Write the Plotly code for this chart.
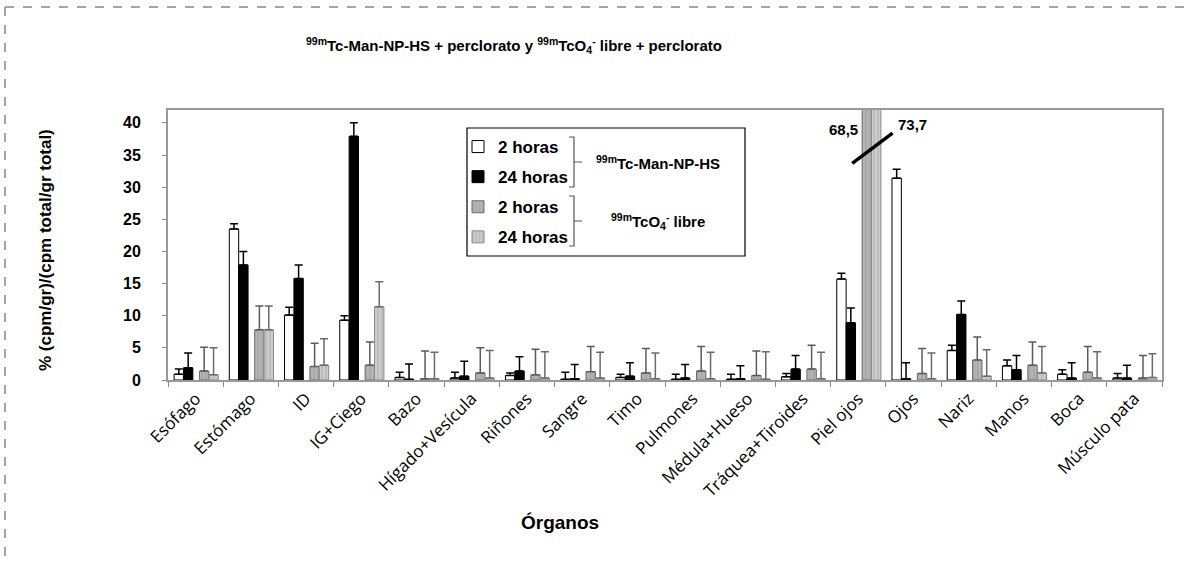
import plotly.graph_objects as go

# ---------------- data ----------------
categories = ["Esófago", "Estómago", "ID", "IG+Ciego", "Bazo", "Hígado+Vesícula",
              "Riñones", "Sangre", "Timo", "Pulmones", "Médula+Hueso",
              "Tráquea+Tiroides", "Piel ojos", "Ojos", "Nariz", "Manos", "Boca",
              "Músculo pata"]

man_2h = [0.9, 23.5, 10.1, 9.3, 0.4, 0.3, 0.7, 0.1, 0.4, 0.1, 0.1, 0.5, 15.7, 31.4, 4.6, 2.2, 0.9, 0.3]
man_2h_err = [0.8, 0.8, 1.2, 0.7, 0.8, 0.9, 0.4, 1.1, 0.5, 0.8, 0.8, 0.5, 0.9, 1.4, 0.8, 0.9, 0.7, 0.7]
man_24h = [1.9, 17.9, 15.8, 37.9, 0.1, 0.6, 1.4, 0.2, 0.6, 0.3, 0.2, 1.7, 8.9, 0.2, 10.2, 1.6, 0.3, 0.3]
man_24h_err = [2.3, 2.1, 2.1, 2.1, 2.4, 2.3, 2.2, 2.2, 2.1, 2.1, 2.0, 2.1, 2.3, 2.5, 2.1, 2.2, 2.4, 2.0]
tc_2h = [1.4, 7.8, 2.1, 2.3, 0.2, 1.1, 0.8, 1.3, 1.1, 1.4, 0.7, 1.7, 68.5, 1.0, 3.1, 2.3, 1.2, 0.3]
tc_2h_err = [3.7, 3.7, 3.6, 3.6, 4.3, 3.9, 4.0, 3.9, 3.8, 3.8, 3.8, 3.7, 4.0, 3.9, 3.6, 3.6, 4.0, 3.5]
tc_24h = [0.8, 7.8, 2.3, 11.4, 0.2, 0.3, 0.3, 0.3, 0.2, 0.2, 0.1, 0.2, 73.7, 0.2, 0.6, 1.1, 0.3, 0.4]
tc_24h_err = [4.2, 3.7, 4.1, 3.9, 4.1, 4.3, 4.1, 4.0, 4.0, 4.1, 4.3, 4.1, 4.0, 4.0, 4.1, 4.1, 4.1, 3.7]

legend_labels = ["2 horas", "24 horas", "2 horas", "24 horas"]
group_labels = ["<b><sup>99m</sup>Tc-Man-NP-HS</b>", "<b><sup>99m</sup>TcO<sub>4</sub><sup>-</sup> libre</b>"]
title_text = ("<b><sup>99m</sup>Tc-Man-NP-HS + perclorato y <sup>99m</sup>TcO<sub>4</sub>"
              "<sup>-</sup> libre + perclorato</b>")
y_title = "<b>% (cpm/gr)/(cpm total/gr total)</b>"
x_title = "<b>Órganos</b>"

# ---------------- layout geometry ----------------
W, H = 1193, 564
L, R, T, B = 168, 31, 110, 184
PW, PH = W - L - R, H - T - B


def px(x):
    return (x - L) / PW


def py(y):
    return (H - B - y) / PH


series = [
    dict(y=man_2h, e=man_2h_err, fill="white", line="black", ecol="black", off=-0.39),
    dict(y=man_24h, e=man_24h_err, fill="black", line="black", ecol="black", off=-0.22),
    dict(y=tc_2h, e=tc_2h_err, fill="#b4b4b4", line="#6a6a6a", ecol="#5a5a5a", off=0.07, pat="|"),
    dict(y=tc_24h, e=tc_24h_err, fill="#cdcdcd", line="#8a8a8a", ecol="#6a6a6a", off=0.24, pat="|"),
]

fig = go.Figure()
for k, (s, name) in enumerate(zip(series, legend_labels)):
    marker = dict(color=s["fill"], line=dict(color=s["line"], width=1))
    if s.get("pat"):
        marker["pattern"] = dict(shape=s["pat"], fgcolor="#8c8c8c", size=4, solidity=0.25)
    fig.add_trace(go.Bar(
        x=categories, y=s["y"], name=name, legendgroup=f"g{k}",
        width=0.17, offset=s["off"],
        marker=marker,
        error_y=dict(type="data", array=s["e"], arrayminus=[0] * len(s["e"]),
                     symmetric=False, color=s["ecol"], thickness=1.5, width=4),
    ))

fig.update_layout(
    width=W, height=H,
    margin=dict(l=L, r=R, t=T, b=B),
    plot_bgcolor="white", paper_bgcolor="white",
    barmode="overlay",
    showlegend=True,
    legend=dict(x=px(458), y=py(129), xanchor="left", yanchor="top",
                bgcolor="rgba(0,0,0,0)", borderwidth=0,
                font=dict(family="Liberation Sans", size=17, color="black", weight="bold"),
                tracegroupgap=5, itemclick=False),
    xaxis=dict(type="category", tickangle=-45, tickson="boundaries",
               ticks="outside", ticklen=5, tickcolor="#888",
               showline=True, linecolor="#999", linewidth=2, mirror=True,
               showgrid=False, automargin=False,
               tickfont=dict(family="Open Sans", size=17, color="black")),
    yaxis=dict(range=[0, 42], dtick=5, ticks="outside", ticklen=4, tickcolor="#888",
               showline=True, linecolor="#999", linewidth=2, mirror=True,
               showgrid=False, zeroline=False, ticklabelstandoff=18, automargin=False,
               tickfont=dict(family="Liberation Sans", size=16, color="black", weight="bold")),
)

shapes = []
annotations = []

# outer dashed frame (top and left)
shapes.append(dict(type="line", xref="paper", yref="paper", x0=px(5), x1=px(1193), y0=py(7), y1=py(7),
                   line=dict(color="#888", width=1.5, dash="dash")))
shapes.append(dict(type="line", xref="paper", yref="paper", x0=px(5), x1=px(5), y0=py(7), y1=py(564),
                   line=dict(color="#888", width=1.5, dash="dash")))

# legend box
shapes.append(dict(type="rect", xref="paper", yref="paper", x0=px(467), x1=px(745), y0=py(256), y1=py(128),
                   line=dict(color="black", width=1.2), fillcolor="rgba(0,0,0,0)"))


# brackets
def bracket(y0, y1, x0=569, x1=574, x2=582):
    ym = (y0 + y1) / 2
    path = (f"M {px(x0)},{py(y0)} L {px(x1)},{py(y0)} L {px(x1)},{py(y1)} L {px(x0)},{py(y1)} "
            f"M {px(x1)},{py(ym)} L {px(x2)},{py(ym)}")
    return dict(type="path", xref="paper", yref="paper", path=path, line=dict(color="#555", width=1.2))


shapes.append(bracket(137, 187))
shapes.append(bracket(196, 246))

annotations.append(dict(xref="paper", yref="paper", x=px(658), y=py(162), text=group_labels[0],
                        xanchor="center", yanchor="middle",
                        showarrow=False, font=dict(family="Liberation Sans", size=15, color="black")))
annotations.append(dict(xref="paper", yref="paper", x=px(658), y=py(221), text=group_labels[1],
                        xanchor="center", yanchor="middle",
                        showarrow=False, font=dict(family="Liberation Sans", size=15, color="black")))

# break mark on Piel ojos
i_piel = categories.index("Piel ojos")
shapes.append(dict(type="line", xref="x", yref="y", x0=i_piel - 0.11, y0=33.7, x1=i_piel + 0.62, y1=38.4,
                   line=dict(color="black", width=3.5)))
annotations.append(dict(xref="x", yref="y", x=i_piel - 0.27, y=38.9,
                        text="<b>" + f"{tc_2h[i_piel]:.1f}".replace(".", ",") + "</b>",
                        showarrow=False, font=dict(family="Liberation Sans", size=15, color="black")))
annotations.append(dict(xref="x", yref="y", x=i_piel + 0.98, y=39.7,
                        text="<b>" + f"{tc_24h[i_piel]:.1f}".replace(".", ",") + "</b>",
                        showarrow=False, font=dict(family="Liberation Sans", size=15, color="black")))

# titles
annotations.append(dict(xref="paper", yref="paper", x=px(514), y=py(45), text=title_text,
                        xanchor="center", yanchor="middle",
                        showarrow=False, font=dict(family="Liberation Sans", size=15, color="black")))
annotations.append(dict(xref="paper", yref="paper", x=px(45), y=py(250), text=y_title, textangle=-90,
                        xanchor="center", yanchor="middle",
                        showarrow=False, font=dict(family="Liberation Sans", size=17, color="black")))
annotations.append(dict(xref="paper", yref="paper", x=px(560), y=py(522), text=x_title,
                        xanchor="center", yanchor="middle",
                        showarrow=False, font=dict(family="Liberation Sans", size=19, color="black")))

fig.update_layout(shapes=shapes, annotations=annotations)

fig.write_html("out.html", config={"displayModeBar": False},
               post_script="document.body.style.margin='0';")
